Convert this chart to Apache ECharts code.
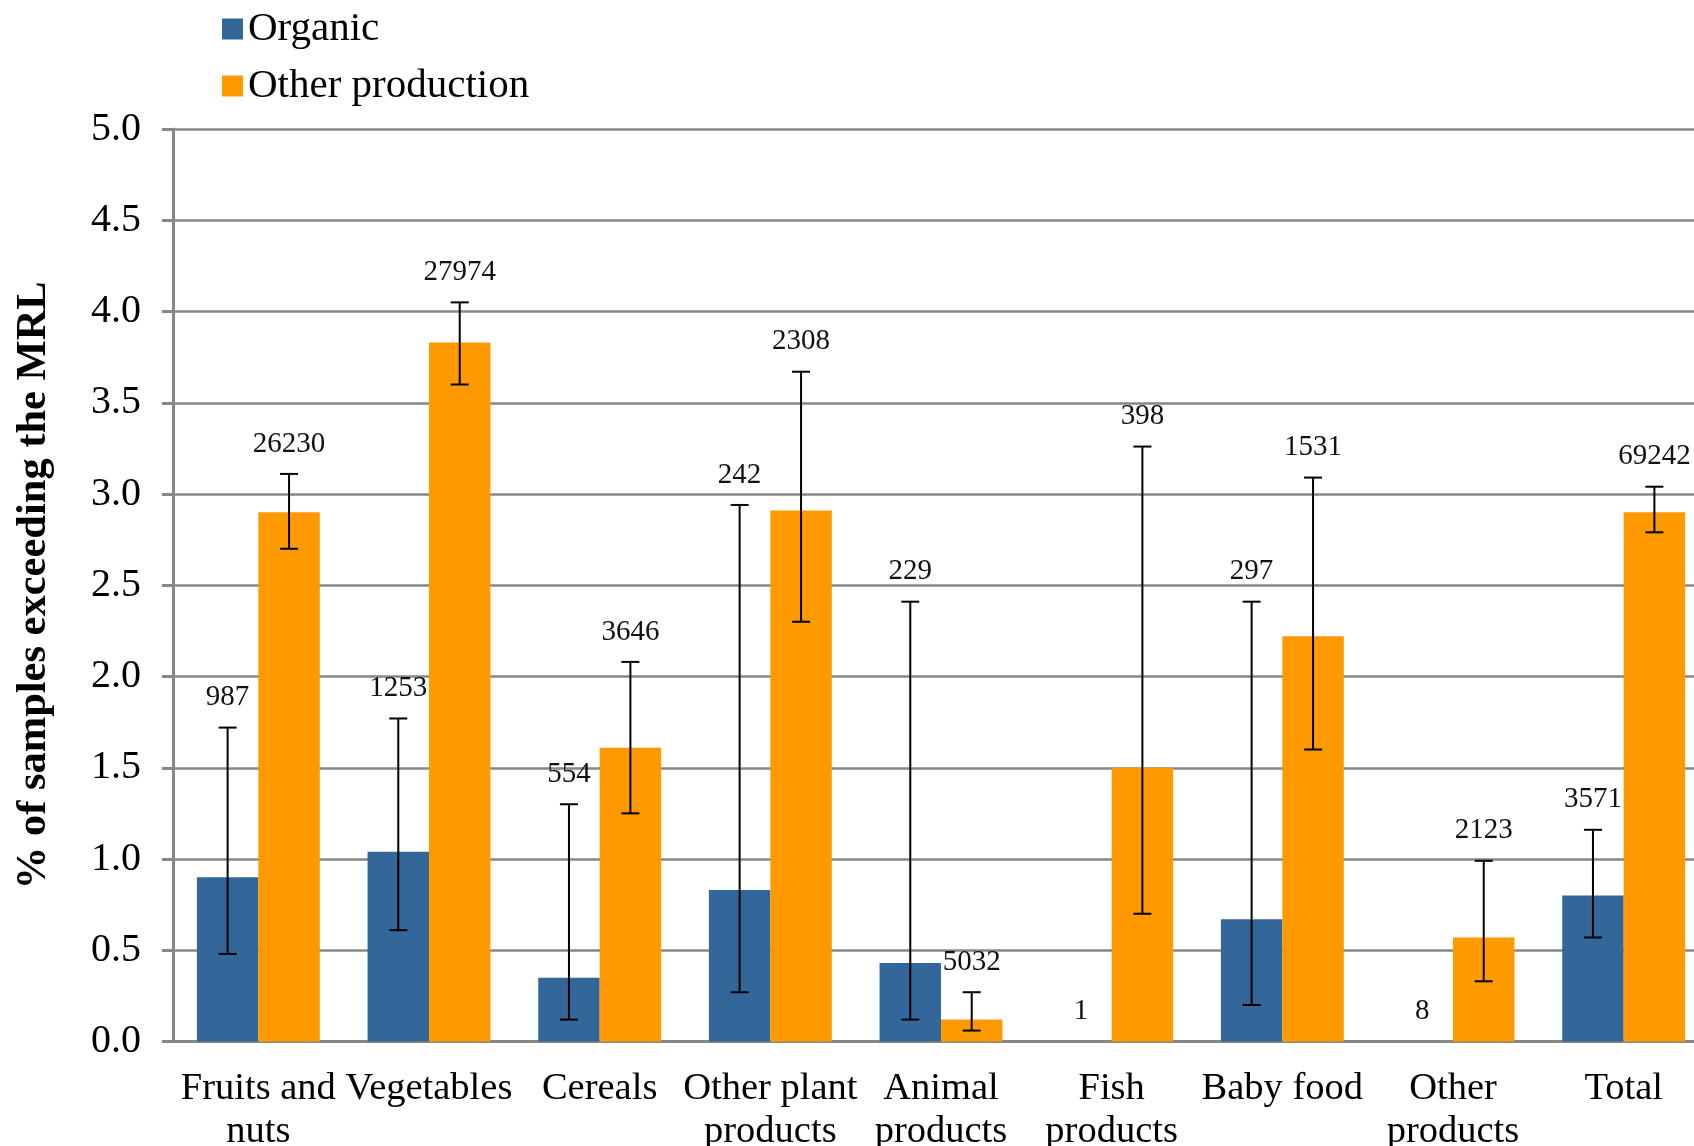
<!DOCTYPE html>
<html>
<head>
<meta charset="utf-8">
<script src="https://cdn.jsdelivr.net/npm/echarts@6/dist/echarts.min.js"></script>
<style>
  html, body { margin: 0; padding: 0; background: #ffffff; overflow: hidden; }
  #chart { width: 1694px; height: 1146px; }
</style>
</head>
<body>
<div id="chart"></div>
<script>
// Share of samples exceeding the MRL, organic vs. other production
const categories = ['Fruits and\nnuts', 'Vegetables', 'Cereals', 'Other plant\nproducts', 'Animal\nproducts', 'Fish\nproducts', 'Baby food', 'Other\nproducts', 'Total'];

const organic        = [0.90, 1.04, 0.35, 0.83, 0.43, 0, 0.67, 0, 0.80];
const organicLow     = [0.48, 0.61, 0.12, 0.27, 0.12, null, 0.20, null, 0.57];
const organicHigh    = [1.72, 1.77, 1.30, 2.94, 2.41, null, 2.41, null, 1.16];
const organicSamples = [987, 1253, 554, 242, 229, 1, 297, 8, 3571];

const other          = [2.90, 3.83, 1.61, 2.91, 0.12, 1.50, 2.22, 0.57, 2.90];
const otherLow       = [2.70, 3.60, 1.25, 2.30, 0.06, 0.70, 1.60, 0.33, 2.79];
const otherHigh      = [3.11, 4.05, 2.08, 3.67, 0.27, 3.26, 3.09, 0.99, 3.04];
const otherSamples   = [26230, 27974, 3646, 2308, 5032, 398, 1531, 2123, 69242];

const seriesNames = ['Organic', 'Other production'];

const FONT = '"Liberation Serif", "Times New Roman", Times, serif';
const GRID_GRAY = '#878787';
const BAR_SHARE = 0.72;   // 1 - barCategoryGap

// Error bars with whiskers plus the sample-count label above each bar
function errorSeries(values, low, high, counts, side) {
  return {
    type: 'custom',
    z: 5,
    silent: true,
    data: categories.map((c, i) => {
      const lo = low[i] == null ? values[i] : low[i];
      const hi = high[i] == null ? values[i] : high[i];
      return [i, values[i], lo, hi, counts[i]];
    }),
    encode: { x: 0, y: [1, 2, 3] },
    renderItem(params, api) {
      const i = api.value(0);
      const band = api.size([1, 0])[0];
      const x = api.coord([i, 0])[0] + side * band * BAR_SHARE / 4;
      const lo = api.value(2);
      const hi = api.value(3);
      const yLo = api.coord([i, lo])[1];
      const yHi = api.coord([i, hi])[1];
      const cap = 9;
      const children = [];
      if (hi > lo) {
        const st = { stroke: '#000', lineWidth: 2 };
        children.push(
          { type: 'line', shape: { x1: x, y1: yLo, x2: x, y2: yHi }, style: st },
          { type: 'line', shape: { x1: x - cap, y1: yHi, x2: x + cap, y2: yHi }, style: st },
          { type: 'line', shape: { x1: x - cap, y1: yLo, x2: x + cap, y2: yLo }, style: st }
        );
      }
      children.push({
        type: 'text',
        x: x,
        y: yHi - 30,
        style: {
          text: String(api.value(4)),
          font: '29px ' + FONT,
          fill: '#111',
          align: 'center',
          verticalAlign: 'middle'
        }
      });
      return { type: 'group', children: children };
    }
  };
}

const chart = echarts.init(document.getElementById('chart'), null, { renderer: 'canvas' });

chart.setOption({
  animation: false,
  backgroundColor: '#ffffff',
  textStyle: { fontFamily: FONT },
  legend: {
    data: seriesNames,
    orient: 'vertical',
    left: 217,
    top: 2,
    icon: 'rect',
    itemWidth: 21,
    itemHeight: 21,
    itemGap: 13,
    textStyle: { fontFamily: FONT, fontSize: 41, color: '#000', lineHeight: 44 }
  },
  // the last category runs slightly past the right edge of the canvas
  grid: {
    left: 173, width: 1536, top: 129, bottom: 104.5,
    containLabel: false,
    outerBoundsMode: 'none'
  },
  xAxis: {
    type: 'category',
    data: categories,
    axisLine: { lineStyle: { color: GRID_GRAY, width: 3 } },
    axisTick: { length: 12, lineStyle: { color: GRID_GRAY, width: 3 } },
    axisLabel: {
      interval: 0,
      margin: 26,
      color: '#000',
      fontFamily: FONT,
      fontSize: 38.5,
      lineHeight: 43
    }
  },
  yAxis: {
    type: 'value',
    min: 0,
    max: 5,
    interval: 0.5,
    name: '% of samples exceeding the MRL',
    nameLocation: 'middle',
    nameRotate: 90,
    nameGap: 117,
    nameTextStyle: { fontFamily: FONT, fontSize: 42.5, fontWeight: 'bold', color: '#000' },
    axisLine: { show: true, lineStyle: { color: GRID_GRAY, width: 3 } },
    axisTick: { show: true, length: 11, lineStyle: { color: GRID_GRAY, width: 3 } },
    axisLabel: {
      margin: 32,
      color: '#000',
      fontFamily: FONT,
      fontSize: 40,
      formatter: v => v.toFixed(1)
    },
    splitLine: { lineStyle: { color: GRID_GRAY, width: 2.5 } }
  },
  series: [
    {
      name: seriesNames[0],
      type: 'bar',
      data: organic,
      barGap: '0%',
      barCategoryGap: '28%',
      itemStyle: { color: '#336699' }
    },
    {
      name: seriesNames[1],
      type: 'bar',
      data: other,
      barGap: '0%',
      barCategoryGap: '28%',
      itemStyle: { color: '#ff9900' }
    },
    errorSeries(organic, organicLow, organicHigh, organicSamples, -1),
    errorSeries(other, otherLow, otherHigh, otherSamples, 1)
  ]
});
</script>
</body>
</html>
